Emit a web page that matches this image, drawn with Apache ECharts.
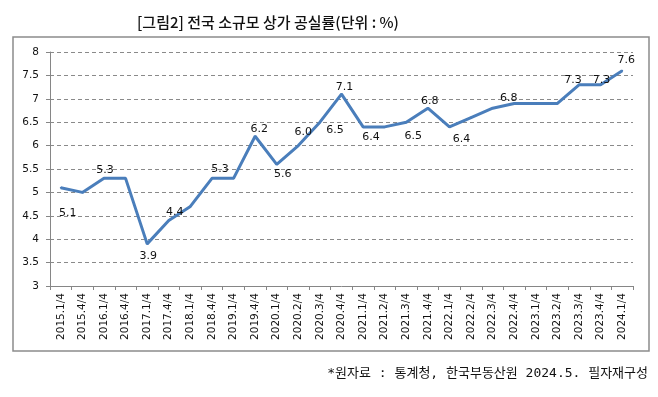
<!DOCTYPE html>
<html>
<head>
<meta charset="utf-8">
<script src="https://cdn.jsdelivr.net/npm/echarts@6/dist/echarts.min.js"></script>
<style>
  html, body { margin: 0; padding: 0; background: #fff; }
  #chart { width: 658px; height: 397px; }
</style>
</head>
<body>
<div id="chart"></div>
<script>
var quarters = ['2015.1/4', '2015.4/4', '2016.1/4', '2016.4/4', '2017.1/4', '2017.4/4', '2018.1/4',
    '2018.4/4', '2019.1/4', '2019.4/4', '2020.1/4', '2020.2/4', '2020.3/4', '2020.4/4', '2021.1/4',
    '2021.2/4', '2021.3/4', '2021.4/4', '2022.1/4', '2022.2/4', '2022.3/4', '2022.4/4', '2023.1/4',
    '2023.2/4', '2023.3/4', '2023.4/4', '2024.1/4'];
var vacancy = [5.1, 5.0, 5.3, 5.3, 3.9, 4.4, 4.7, 5.3, 5.3, 6.2, 5.6, 6.0, 6.5, 7.1, 6.4,
    6.4, 6.5, 6.8, 6.4, 6.6, 6.8, 6.9, 6.9, 6.9, 7.3, 7.3, 7.6];
var yTicks = { min: 3, max: 8, step: 0.5 };

// where each data label sits relative to its point (only labelled points)
var labelOffsets = {
    0: [7, 25], 2: [1, -8], 4: [1, 12], 5: [6, -8], 7: [8, -9], 9: [4, -7],
    10: [6, 10], 11: [5, -13], 12: [15, 8], 13: [3, -7], 14: [8, 10], 16: [7, 14],
    17: [2, -7], 18: [12, 12], 20: [16, -10], 24: [-6, -5], 25: [1, -5], 26: [4, -11]
};

var lineColor = '#4a7ebb';

var seriesData = vacancy.map(function (v, i) {
    var off = labelOffsets[i];
    return {
        value: v,
        label: {
            show: !!off,
            position: 'inside',
            offset: off || [0, 0],
            formatter: function (p) { return p.value.toFixed(1); }
        }
    };
});

var myChart = echarts.init(document.getElementById('chart'));
var option = {
    backgroundColor: '#fff',
    animation: false,
    title: {
        text: '[그림2] 전국 소규모 상가 공실률(단위 : %)',
        left: 132,
        top: 10,
        textStyle: {
            fontFamily: 'Noto Sans CJK KR',
            fontSize: 15,
            fontWeight: 500,
            color: '#111'
        }
    },
    graphic: [
        {
            type: 'rect',
            shape: { x: 13, y: 37, width: 636, height: 314 },
            style: { fill: 'none', stroke: '#8c8c8c', lineWidth: 1.5 },
            silent: true
        },
        {
            type: 'text',
            right: 10,
            top: 367,
            style: {
                text: '*원자료 : 통계청, 한국부동산원 2024.5. 필자재구성',
                font: '13px "DejaVu Sans Mono", "Noto Sans CJK KR"',
                fill: '#111'
            }
        }
    ],
    grid: { left: 50, right: 25, top: 52, bottom: 111 },
    xAxis: {
        type: 'category',
        data: quarters,
        boundaryGap: true,
        axisLine: { lineStyle: { color: '#868686', width: 1 } },
        axisTick: { show: true, length: 4, inside: false, lineStyle: { color: '#868686' } },
        axisLabel: {
            rotate: 90,
            interval: 0,
            margin: 7,
            fontFamily: 'DejaVu Sans',
            fontSize: 10.5,
            color: '#111'
        }
    },
    yAxis: {
        type: 'value',
        min: yTicks.min,
        max: yTicks.max,
        interval: yTicks.step,
        axisLine: { show: true, lineStyle: { color: '#868686', width: 1 } },
        axisTick: { show: true, length: 4, lineStyle: { color: '#868686' } },
        axisLabel: {
            margin: 11,
            fontFamily: 'DejaVu Sans',
            fontSize: 10.5,
            color: '#111'
        },
        splitLine: {
            show: true,
            lineStyle: { color: '#8a8a8a', type: [4, 3], width: 1 }
        }
    },
    series: [
        {
            name: '공실률',
            type: 'line',
            data: seriesData,
            symbol: 'circle',
            symbolSize: 2,
            showSymbol: true,
            itemStyle: { color: lineColor },
            lineStyle: { color: lineColor, width: 3 },
            label: {
                fontFamily: 'DejaVu Sans',
                fontSize: 11,
                color: '#111'
            },
            z: 3
        }
    ]
};
myChart.setOption(option);
</script>
</body>
</html>
